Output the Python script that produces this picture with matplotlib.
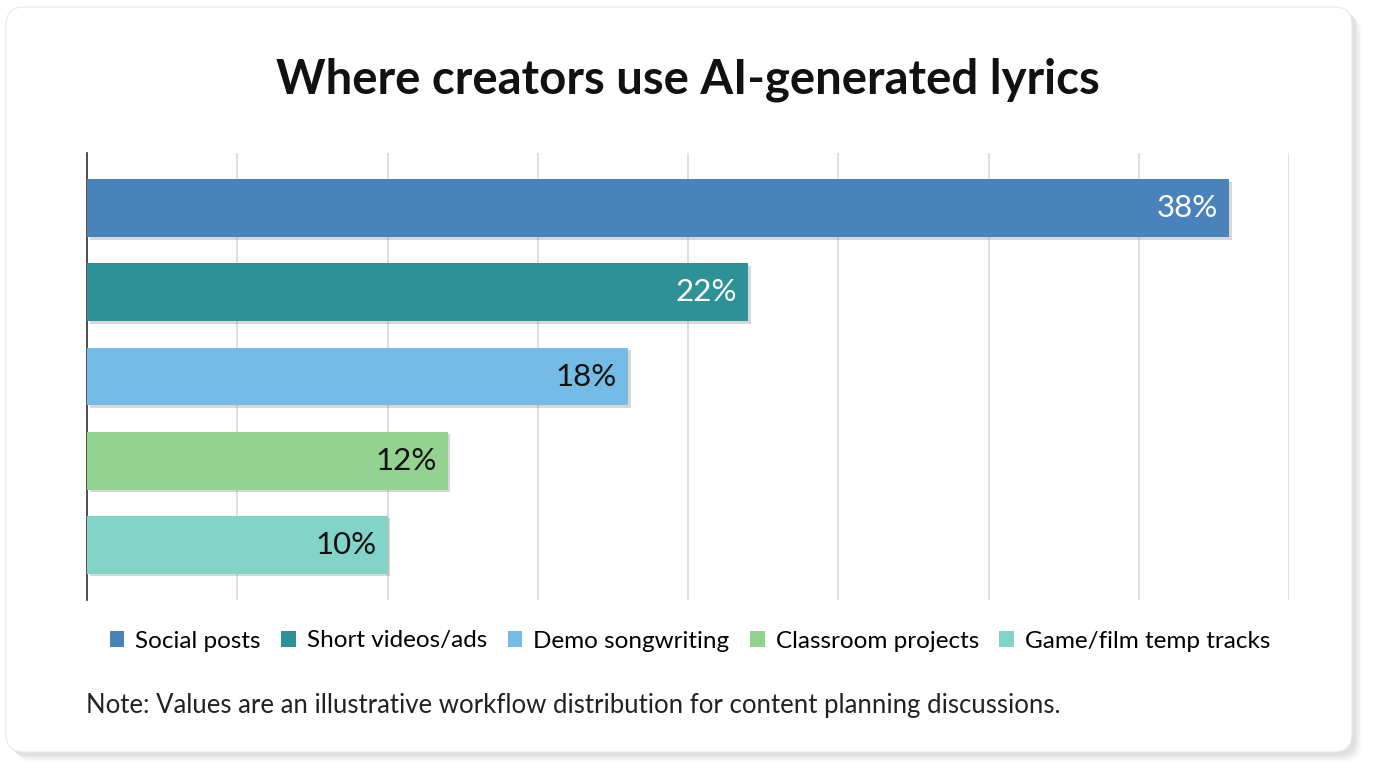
import matplotlib.pyplot as plt
import matplotlib.patheffects as pe
from matplotlib.patches import FancyBboxPatch, Patch

plt.rcParams['font.family'] = ['Lato', 'DejaVu Sans']

# data
categories = ['Social posts', 'Short videos/ads', 'Demo songwriting',
              'Classroom projects', 'Game/film temp tracks']
shares = [38, 22, 18, 12, 10]
colors = ['#4a82bb', '#2e9196', '#74bce6', '#93d38f', '#82d4c9']
label_colors = ['white', 'white', '#111111', '#111111', '#111111']

fig = plt.figure(figsize=(13.76, 7.68), dpi=100)
fig.patch.set_facecolor('white')

# card with soft shadow
for i, a in enumerate([0.04, 0.06, 0.08, 0.10]):
    off = (4 - i) * 2
    sh = FancyBboxPatch((8 + off, 14 - off), 1346, 746, boxstyle='round,pad=0,rounding_size=18',
                        transform=None, facecolor='#888888', edgecolor='none', alpha=a, zorder=0)
    fig.patches.append(sh)
card = FancyBboxPatch((6, 16), 1346, 745, boxstyle='round,pad=0,rounding_size=18',
                      transform=None, facecolor='white', edgecolor='#e8e8e8', lw=0.8, zorder=1)
fig.patches.append(card)

ax = fig.add_axes([87 / 1376, 168 / 768, 1202 / 1376, 447 / 768])
ax.set_facecolor('none')
ax.set_zorder(2)

y = list(range(len(categories)))
bars = ax.barh(y, shares, height=0.69, color=colors, zorder=3)
for b in bars:
    b.set_path_effects([pe.SimplePatchShadow(offset=(2, -2), shadow_rgbFace='#666666', alpha=0.25),
                        pe.Normal()])

for yi, v, c in zip(y, shares, label_colors):
    ax.annotate(f'{v}%', xy=(v, yi), xytext=(-8, 0), textcoords='offset points',
                ha='right', va='center', fontsize=22.5, color=c, zorder=4)

ax.set_xlim(0, 40)
ax.set_ylim(4.66, -0.66)
ax.set_xticks(range(0, 41, 5))
ax.grid(axis='x', color='#d9d9d9', lw=1.2, zorder=0)
ax.tick_params(length=0, labelbottom=False, labelleft=False)
for s in ['top', 'right', 'bottom']:
    ax.spines[s].set_visible(False)
ax.spines['left'].set_color('#333333')
ax.spines['left'].set_linewidth(1.2)

fig.text(688 / 1376, 1 - 80 / 768, 'Where creators use AI-generated lyrics',
         ha='center', va='center', fontsize=34, fontweight='bold', color='#111111')

handles = [Patch(facecolor=c, label=n) for c, n in zip(colors, categories)]
fig.legend(handles=handles, loc='center', bbox_to_anchor=(690 / 1376, 1 - 641 / 768),
           ncol=5, frameon=False, fontsize=17.5, handlelength=0.6, handleheight=0.6,
           handletextpad=0.45, columnspacing=0.85)

fig.text(86 / 1376, 1 - 705 / 768,
         'Note: Values are an illustrative workflow distribution for content planning discussions.',
         ha='left', va='center', fontsize=18.5, color='#222222')

fig.savefig('out.png', dpi=100)
